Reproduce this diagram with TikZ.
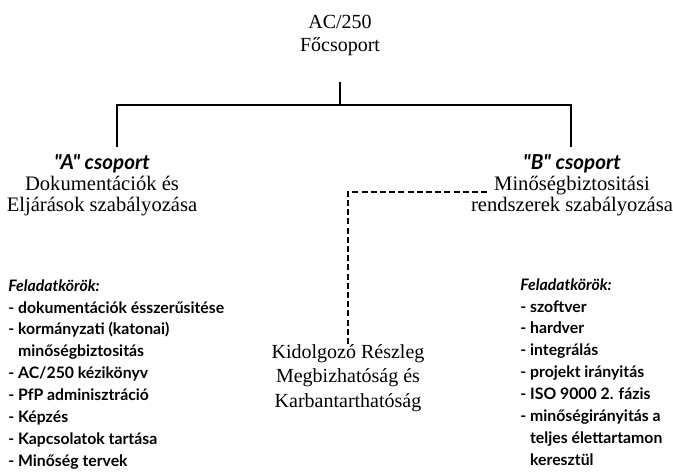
\documentclass[tikz,border=0pt]{standalone}
\usepackage{fontspec}
\setmainfont{Liberation Serif}
\newfontfamily\listfont{Lato}
\usetikzlibrary{positioning}

\newcommand{\grp}[1]{{\listfont\bfseries\itshape #1}}
\newcommand{\ind}{\phantom{- }}

\begin{document}
\begin{tikzpicture}[x=0.5pt,y=-0.5pt,
    tree/.style={line width=0.9pt},
    dashline/.style={line width=0.9pt, dash pattern=on 3pt off 1.6pt},
    head/.style={align=center, inner sep=0pt, font=\fontsize{10.3}{10.5}\selectfont},
    tasks/.style={align=left, inner sep=0pt, anchor=north west,
        font=\listfont\bfseries\fontsize{7.9}{10.95}\selectfont}]

    \useasboundingbox (0,0) rectangle (673,474);

    % Main group on top
    \node[head, font=\fontsize{10}{11.5}\selectfont] (top) at (340,35) {AC/250\\F\H{o}csoport};
    \coordinate (bus) at (340,105);
    \coordinate (aEnd) at (117,147);
    \coordinate (bEnd) at (571,147);
    \draw[tree, shorten <=13pt] (top) -- (bus);
    \draw[tree] (aEnd) |- (bus) -| (bEnd);

    % The two groups
    \node[head] (grpA) at (102,185) {\grp{"A" csoport}\\Dokumentációk és\\Eljárások szabályozása};
    \node[head] (grpB) at (572,185) {\grp{"B" csoport}\\Min\H{o}ségbiztositási\\rendszerek szabályozása};

    % Unit below, joined with a dashed line
    \node[head, font=\fontsize{10}{12.2}\selectfont] (kid) at (348,378)
        {Kidolgozó Részleg\\Megbizhatóság és\\Karbantarthatóság};
    \coordinate (bDash) at (487,192);
    \draw[dashline] (kid.north) |- (bDash);

    % Task lists
    \node[tasks] (tasksA) at (8,279) {%
        {\itshape Feladatkörök:}\\
        - dokumentációk ésszer\H{u}sitése\\
        - kormányzati (katonai)\\
        \ind min\H{o}ségbiztositás\\
        - AC/250 kézikönyv\\
        - PfP adminisztráció\\
        - Képzés\\
        - Kapcsolatok tartása\\
        - Min\H{o}ség tervek};
    \node[tasks] (tasksB) at (520,278) {%
        {\itshape Feladatkörök:}\\
        - szoftver\\
        - hardver\\
        - integrálás\\
        - projekt irányitás\\
        - ISO 9000 2. fázis\\
        - min\H{o}ségirányitás a\\
        \ind teljes élettartamon\\
        \ind keresztül};

\end{tikzpicture}
\end{document}
